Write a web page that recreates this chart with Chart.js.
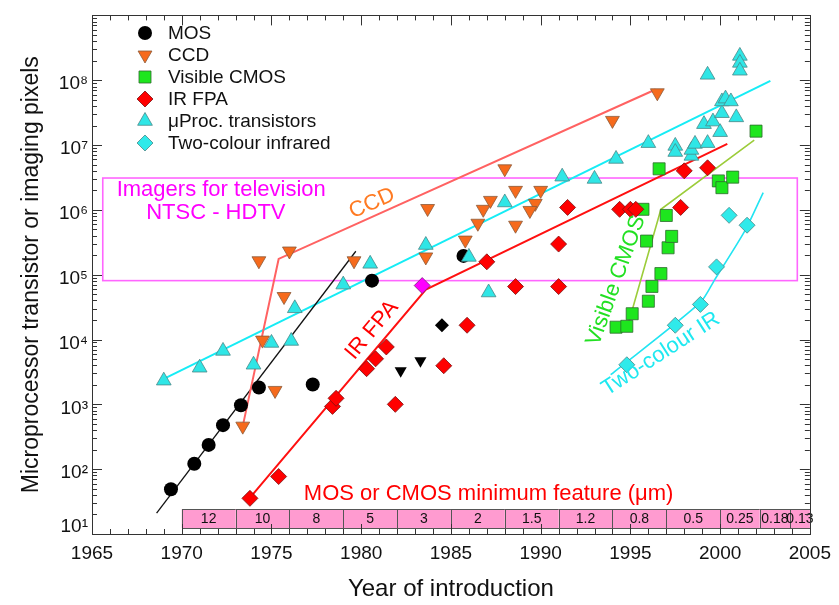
<!DOCTYPE html>
<html><head><meta charset="utf-8">
<script src="https://cdn.jsdelivr.net/npm/chart.js@4/dist/chart.umd.min.js"></script>
<style>html,body{margin:0;padding:0;background:#fff}#wrap{width:839px;height:605px}</style>
</head><body><div id="wrap"><canvas id="c" width="839" height="605"></canvas></div>
<script>
// ---------- data (year, count) ----------
const mosPoints = [[1969.4,49],[1970.7,121],[1971.5,237],[1972.3,478],[1973.3,966],[1974.3,1820],[1977.3,2020],[1980.6,81000],[1985.7,195000]];
const mosTriangles = [[1982.2,3300],[1983.3,4700]];
const mosDiamonds = [[1984.5,16600]];
const ccdPoints = [[1973.4,461],[1974.5,9800],[1975.2,1640],[1975.7,46100],[1974.3,164000],[1976.0,232000],[1979.6,164000],[1983.6,188000],[1985.8,342000],[1986.5,622000],[1983.7,1.05e6],[1986.8,1.02e6],[1987.2,1.4e6],[1988.0,4.3e6],[1988.6,2.0e6],[1988.6,5.8e5],[1990.0,2.0e6],[1989.7,1.26e6],[1989.4,9.8e5],[1994.0,2.4e7],[1996.5,6.4e7]];
const cmosPoints = [[1994.2,1.55e4],[1994.8,1.6e4],[1995.1,2.5e4],[1996.0,3.9e4],[1996.2,6.6e4],[1996.7,1.04e5],[1997.1,2.6e5],[1997.3,3.9e5],[1995.9,3.3e5],[1995.7,1.02e6],[1997.0,8.2e5],[1996.6,4.3e6],[1999.9,2.8e6],[2000.1,2.2e6],[2000.7,3.2e6],[2002.0,1.64e7]];
const irfpaPoints = [[1973.8,35.5],[1975.4,77],[1978.4,930],[1978.6,1240],[1981.9,1000],[1980.3,3550],[1980.8,5040],[1981.4,7680],[1984.6,3940],[1985.9,16600],[1987.0,158000],[1988.6,65600],[1991.0,65600],[1991.0,297000],[1991.5,1.09e6],[1994.4,1.02e6],[1995.0,1.02e6],[1995.3,1.02e6],[1997.8,1.09e6],[1998.0,4.0e6],[1999.3,4.46e6]];
const irfpaHighlight = [[1983.4,68000]];
const uprocPoints = [[1969.0,2320],[1971.0,3670],[1972.3,6670],[1974.0,4080],[1975.0,8850],[1976.1,9500],[1976.3,30300],[1979.0,70300],[1980.5,147000],[1983.6,287000],[1986.0,188000],[1987.1,53100],[1988.0,1.3e6],[1991.2,3.25e6],[1993.0,3.0e6],[1994.2,6.1e6],[1996.0,1.07e7],[1997.5,9.7e6],[1997.5,7.8e6],[1998.4,6.8e6],[1998.4,8.4e6],[1998.6,1.04e7],[1999.3,1.07e7],[1999.1,2.1e7],[1999.6,2.3e7],[2000.0,1.58e7],[2000.1,3.1e7],[2000.1,4.7e7],[2000.3,5.2e7],[2000.6,4.7e7],[2000.9,2.67e7],[1999.3,1.21e8],[2001.1,2.37e8],[2001.1,1.85e8],[2001.1,1.4e8]];
const twoColourPoints = [[1994.8,4080],[1997.5,16600],[1998.9,34800],[1999.8,132000],[2001.5,580000],[2000.5,824000]];

// trend lines (vertices)
const ccdLine = [[1973.4,461],[1975.4,1.75e5],[1996.4,7.2e7]];
const mosLine = [[1968.6,21],[1979.7,2.3e5]];
const uprocLine = [[1968.8,2320],[2002.8,9.8e7]];
const irfpaLine = [[1973.9,39],[1983.6,5.9e4],[2000.4,1.04e7]];
const cmosLine = [[1994.8,1.45e4],[1996.7,1.02e6],[2001.9,1.19e7]];
const twoColourLine = [[1993.9,2870],[1998.9,37400],[1999.7,84000],[2001.4,487000],[2002.4,1.85e6]];

// feature-size strip
const featureEdges = [1970,1973,1976,1979,1982,1985,1988,1991,1994,1997,2000,2002.2,2003.9,2005];
const featureSizes = ['12','10','8','5','3','2','1.5','1.2','0.8','0.5','0.25','0.18','0.13'];

// TV imager box (years, pixel counts)
const tvBoxYears = [1965.6, 2004.3];
const tvBoxValues = [8.1e4, 3.1e6];

// axis ticks
const xTickYears = [1965,1970,1975,1980,1985,1990,1995,2000,2005];
const yTickPowers = [1,2,3,4,5,6,7,8];

// ---------- chart ----------
const FONT = '"Liberation Sans", Arial, sans-serif';
Chart.defaults.font.family = FONT;
const toXY = a => a.map(([x,y]) => ({x, y}));
const sup = {'0':'⁰','1':'¹','2':'²','3':'³','4':'⁴','5':'⁵','6':'⁶','7':'⁷','8':'⁸','9':'⁹'};

function markers(label, pts, style, fill, border, r, rot, order, legend) {
  return {label, data: toXY(pts), showLine:false, pointStyle: style, pointRadius:r, pointHoverRadius:r,
    pointRotation: rot||0, pointBackgroundColor: fill, pointBorderColor: border, pointBorderWidth: border ? 0.8 : 0,
    backgroundColor: fill, borderColor: border || fill, order, legend: !!legend};
}
function line(pts, color, w, tension, order) {
  return {label:'', data: toXY(pts), showLine:true, borderColor: color, borderWidth: w, pointRadius:0, pointHoverRadius:0,
    fill:false, tension: tension||0, order: order || 20, legend:false};
}

const datasets = [
  line(ccdLine, '#ff6262', 2),
  line(mosLine, '#111111', 1.3),
  line(uprocLine, '#16ecf5', 2),
  line(irfpaLine, '#ff1010', 2),
  line(cmosLine, '#9ccc3a', 1.6),
  line(twoColourLine, '#22e4f2', 1.6, 0.25),
  markers('MOS', mosPoints, 'circle', '#000000', null, 7, 0, 9, true),
  markers('', mosTriangles, 'triangle', '#000000', null, 7, 180, 9),
  markers('', mosDiamonds, 'rectRot', '#000000', null, 7, 0, 9),
  markers('CCD', ccdPoints, 'triangle', '#f66a1c', '#8a5a3a', 8, 180, 8, true),
  markers('Visible CMOS', cmosPoints, 'rect', '#1ee61e', '#2f6a2f', 8.5, 0, 7, true),
  markers('IR FPA', irfpaPoints, 'rectRot', '#ff0000', '#7a1010', 8, 0, 6, true),
  markers('', irfpaHighlight, 'rectRot', '#ff00ff', '#7a207a', 8, 0, 6),
  markers('μProc. transistors', uprocPoints, 'triangle', '#2fe6e6', '#4a8888', 8.5, 0, 5, true),
  markers('Two-colour infrared', twoColourPoints, 'rectRot', '#2feaea', '#4a8888', 8, 0, 4, true)
];

const annotations = [
  {text:'Imagers for television', x:1972.2, y:2.06e6, rot:0, color:'#ff00ff', size:22},
  {text:'NTSC - HDTV', x:1971.9, y:8.9e5, rot:0, color:'#ff00ff', size:22},
  {text:'CCD', x:1980.6, y:1.26e6, rot:-24, color:'#ff7a22', size:22},
  {text:'IR FPA', x:1980.6, y:1.4e4, rot:-50, color:'#ff0000', size:22},
  {text:'Visible CMOS', x:1994.2, y:8.1e4, rot:-70, color:'#22e022', size:22},
  {text:'Two-colour IR', x:1996.7, y:6000, rot:-33, color:'#1ee8f0', size:22},
  {text:'MOS or CMOS minimum feature (μm)', x:1987.1, y:42, rot:0, color:'#ff0000', size:22}
];

const backPlugin = {
  id:'back',
  beforeDatasetsDraw(chart) {
    const {ctx, chartArea:a, scales:{x,y}} = chart;
    ctx.save();
    const x0 = x.getPixelForValue(tvBoxYears[0]), x1 = x.getPixelForValue(tvBoxYears[1]);
    const y0 = y.getPixelForValue(tvBoxValues[1]), y1 = y.getPixelForValue(tvBoxValues[0]);
    ctx.strokeStyle = '#ff66ff'; ctx.lineWidth = 1.6;
    ctx.strokeRect(x0, y0, x1 - x0, y1 - y0);
    const top = a.bottom - 25, bot = a.bottom - 6;
    ctx.font = '14px ' + FONT; ctx.textAlign = 'center'; ctx.textBaseline = 'middle';
    for (let i = 0; i < featureSizes.length; i++) {
      const l = x.getPixelForValue(featureEdges[i]), r = x.getPixelForValue(featureEdges[i+1]);
      ctx.fillStyle = '#ff9bd0'; ctx.fillRect(l, top, r - l, bot - top);
      ctx.strokeStyle = '#555'; ctx.lineWidth = 1; ctx.strokeRect(Math.round(l)+0.5, top+0.5, Math.round(r)-Math.round(l), bot - top);
      ctx.fillStyle = '#111'; ctx.fillText(featureSizes[i], (l + r) / 2, (top + bot) / 2 + 1);
    }
    ctx.restore();
  },
  afterDatasetsDraw(chart) {
    const {ctx, scales:{x,y}} = chart;
    ctx.save();
    ctx.textAlign = 'center'; ctx.textBaseline = 'middle';
    for (const t of annotations) {
      ctx.save();
      ctx.translate(x.getPixelForValue(t.x), y.getPixelForValue(t.y));
      ctx.rotate(t.rot * Math.PI / 180);
      ctx.font = t.size + 'px ' + FONT; ctx.fillStyle = t.color;
      ctx.fillText(t.text, 0, 0);
      ctx.restore();
    }
    ctx.restore();
  },
  afterDraw(chart) {
    const {ctx, chartArea:a, scales:{x,y}} = chart;
    ctx.save();
    ctx.strokeStyle = '#333'; ctx.lineWidth = 1;
    ctx.strokeRect(Math.round(a.left)+0.5, Math.round(a.top)+0.5, Math.round(a.right-a.left), Math.round(a.bottom-a.top));
    ctx.beginPath();
    for (let yr = xTickYears[0]; yr <= xTickYears[xTickYears.length-1]; yr++) {
      const px = Math.round(x.getPixelForValue(yr)) + 0.5;
      const len = (yr % 5 === 0) ? 10 : 5;
      ctx.moveTo(px, a.bottom); ctx.lineTo(px, a.bottom - len);
      ctx.moveTo(px, a.top); ctx.lineTo(px, a.top + len);
    }
    for (let p = 1; p <= 8; p++) for (let m = 1; m <= 9; m++) {
      const py = Math.round(y.getPixelForValue(m * Math.pow(10, p))) + 0.5;
      const len = m === 1 ? 10 : 5;
      ctx.moveTo(a.left, py); ctx.lineTo(a.left + len, py);
      ctx.moveTo(a.right, py); ctx.lineTo(a.right - len, py);
    }
    ctx.stroke();
    const items = chart.data.datasets.filter(d => d.legend);
    let ly = 33;
    ctx.font = '19px ' + FONT; ctx.textAlign = 'left'; ctx.textBaseline = 'middle';
    for (const d of items) {
      ctx.fillStyle = d.pointBackgroundColor; ctx.strokeStyle = d.pointBorderColor || d.pointBackgroundColor;
      ctx.lineWidth = d.pointBorderWidth;
      Chart.helpers.drawPoint(ctx, {pointStyle: d.pointStyle, radius: d.pointRadius, rotation: d.pointRotation, borderWidth: d.pointBorderWidth}, 145, ly);
      ctx.fillStyle = '#111';
      ctx.fillText(d.label, 168, ly + 1);
      ly += 22;
    }
    ctx.restore();
  }
};

new Chart(document.getElementById('c'), {
  type: 'scatter',
  data: {datasets},
  options: {
    responsive: false, animation: false, devicePixelRatio: 1,
    layout: {padding: {left: 0, right: 27, top: 10, bottom: 0}},
    plugins: {legend: {display: false}, tooltip: {enabled: false}},
    scales: {
      x: {
        type: 'linear', min: 1965, max: 2005,
        afterBuildTicks: s => { s.ticks = xTickYears.map(v => ({value: v})); },
        ticks: {autoSkip: false, callback: v => String(v), color: '#111', font: {size: 19}, padding: 8},
        grid: {display: false, drawTicks: false}, border: {display: false},
        title: {display: true, text: 'Year of introduction', color: '#111', font: {size: 24}, padding: {bottom: 1}},
        afterFit: s => { s.height = 71; }
      },
      y: {
        type: 'logarithmic', min: 10, max: 1e9,
        afterBuildTicks: s => { s.ticks = yTickPowers.map(p => ({value: Math.pow(10, p)})); },
        ticks: {autoSkip: false, color: '#111', font: {size: 19}, padding: 4, labelOffset: 4,
          callback: v => {
            const e = Math.round(Math.log10(v));
            const s = '10' + String(e).split('').map(c => sup[c]).join('');
            return e === 1 ? [s, ''] : s;
          }},
        grid: {display: false, drawTicks: false}, border: {display: false},
        title: {display: true, text: 'Microprocessor transistor or imaging pixels', color: '#111', font: {size: 23}, padding: {top: 18}},
        afterFit: s => { s.width = 92; }
      }
    }
  },
  plugins: [backPlugin]
});
</script></body></html>
